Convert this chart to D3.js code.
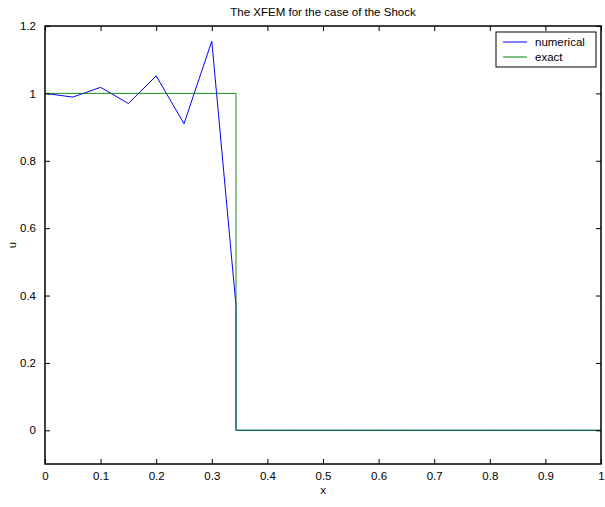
<!DOCTYPE html>
<html>
<head>
<meta charset="utf-8">
<script src="https://cdn.jsdelivr.net/npm/d3@7"></script>
<style>
  body { margin: 0; background: #fff; }
  svg { display: block; }
  text { font-family: "Liberation Sans", Arial, sans-serif; font-size: 11.5px; fill: #000; }
</style>
</head>
<body>
<script>
// Numerical XFEM solution: nodal values, with the enriched node at the shock
const numX = [0, 0.05, 0.1, 0.15, 0.2, 0.25, 0.3, 0.3435, 0.3435, 0.35, 0.4, 0.45, 0.5, 0.55, 0.6, 0.65, 0.7, 0.75, 0.8, 0.85, 0.9, 0.95, 1];
const numU = [1, 0.989, 1.018, 0.97, 1.052, 0.91, 1.155, 0.37, 0, 0, 0, 0, 0, 0, 0, 0, 0, 0, 0, 0, 0, 0, 0];
// Exact solution: step at the shock location
const exactX = [0, 0.3435, 0.3435, 1];
const exactU = [1, 1, 0, 0];
// Axis ticks
const xTicks = [0, 0.1, 0.2, 0.3, 0.4, 0.5, 0.6, 0.7, 0.8, 0.9, 1];
const yTicks = [0, 0.2, 0.4, 0.6, 0.8, 1, 1.2];
const seriesNames = ["numerical", "exact"];
const seriesColors = ["#0000ff", "#008000"];

const W = 605, H = 507;
const mLeft = 45, mRight = 601, mTop = 26, mBottom = 464;

const svg = d3.select("body").append("svg").attr("width", W).attr("height", H);
const x = d3.scaleLinear().domain([0, 1]).range([mLeft, mRight]);
const y = d3.scaleLinear().domain([-0.1, 1.2]).range([mBottom, mTop]);

const line = d3.line().x(d => x(d[0])).y(d => y(d[1]));

// Data lines
svg.append("path")
  .datum(d3.zip(numX, numU))
  .attr("d", line)
  .attr("fill", "none")
  .attr("stroke", seriesColors[0])
  .attr("stroke-width", 1);
svg.append("path")
  .datum(d3.zip(exactX, exactU))
  .attr("d", line)
  .attr("fill", "none")
  .attr("stroke", seriesColors[1])
  .attr("stroke-opacity", 0.9)
  .attr("stroke-width", 1);

// Axes with inward ticks on all four sides
const tick = -5;
const gx = svg.append("g").attr("transform", `translate(0,${mBottom})`)
  .call(d3.axisBottom(x).tickValues(xTicks).tickSizeInner(tick).tickSizeOuter(0).tickPadding(8).tickFormat(d3.format("")));
const gxt = svg.append("g").attr("transform", `translate(0,${mTop})`)
  .call(d3.axisTop(x).tickValues(xTicks).tickSizeInner(tick).tickSizeOuter(0).tickFormat(""));
const gy = svg.append("g").attr("transform", `translate(${mLeft},0)`)
  .call(d3.axisLeft(y).tickValues(yTicks).tickSizeInner(tick).tickSizeOuter(0).tickPadding(9).tickFormat(d3.format("")));
const gyr = svg.append("g").attr("transform", `translate(${mRight},0)`)
  .call(d3.axisRight(y).tickValues(yTicks).tickSizeInner(tick).tickSizeOuter(0).tickFormat(""));

[gx, gxt, gy, gyr].forEach(g => {
  g.selectAll(".domain").remove();
  g.selectAll("line").attr("stroke", "#000");
  g.selectAll("text").attr("font-family", "Liberation Sans, Arial, sans-serif").attr("font-size", 11.5);
});

// Axes box
svg.append("rect")
  .attr("x", mLeft).attr("y", mTop)
  .attr("width", mRight - mLeft).attr("height", mBottom - mTop)
  .attr("fill", "none").attr("stroke", "#000").attr("stroke-width", 1.5);

// Title and axis labels
svg.append("text").attr("x", (mLeft + mRight) / 2).attr("y", 16)
  .attr("text-anchor", "middle").text("The XFEM for the case of the Shock");
svg.append("text").attr("x", (mLeft + mRight) / 2).attr("y", 494)
  .attr("text-anchor", "middle").text("x");
svg.append("text").attr("transform", `translate(16,${(mTop + mBottom) / 2}) rotate(-90)`)
  .attr("text-anchor", "middle").text("u");

// Legend
const lg = svg.append("g");
lg.append("rect").attr("x", 496).attr("y", 32).attr("width", 100).attr("height", 35)
  .attr("fill", "#fff").attr("stroke", "#000").attr("stroke-width", 1);
seriesNames.forEach((name, i) => {
  const ly = 42 + i * 15;
  lg.append("line").attr("x1", 503).attr("x2", 527).attr("y1", ly).attr("y2", ly)
    .attr("stroke", seriesColors[i]).attr("stroke-width", 1);
  lg.append("text").attr("x", 535).attr("y", ly + 4).text(name);
});
</script>
</body>
</html>
